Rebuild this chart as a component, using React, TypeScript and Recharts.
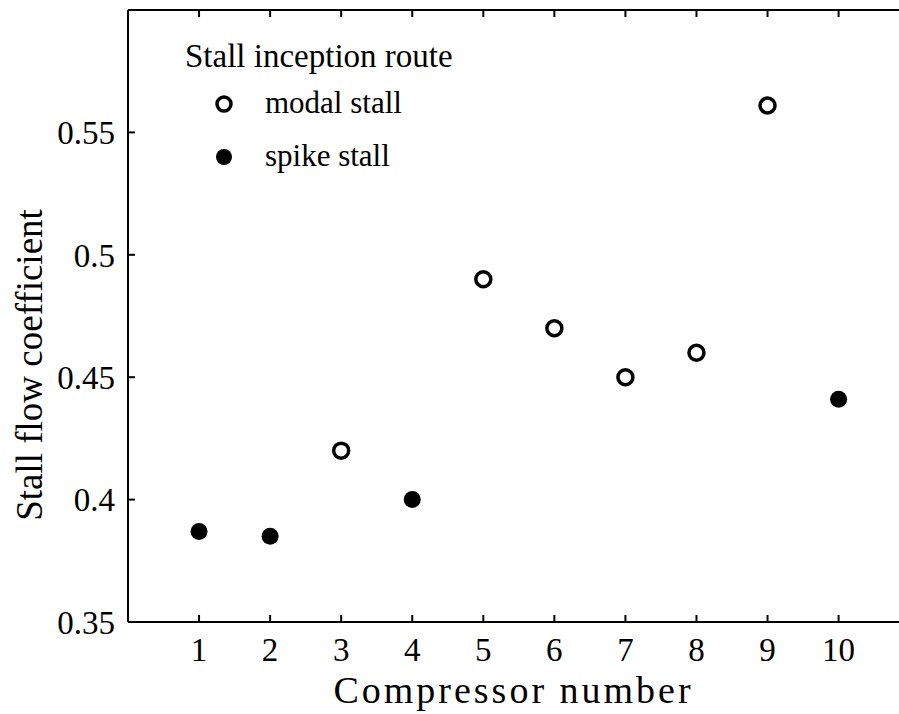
import { Label, Scatter, ScatterChart, XAxis, YAxis } from "recharts";

const FONT = '"Liberation Serif", "Times New Roman", serif';

const modalCompressors = [3, 5, 6, 7, 8, 9];
const modalFlow = [0.42, 0.49, 0.47, 0.45, 0.46, 0.561];
const spikeCompressors = [1, 2, 4, 10];
const spikeFlow = [0.387, 0.385, 0.4, 0.441];
const xTicks = [1, 2, 3, 4, 5, 6, 7, 8, 9, 10];
const yTicks = [0.35, 0.4, 0.45, 0.5, 0.55];

const modalData = modalCompressors.map((c, i) => ({ x: c, y: modalFlow[i] }));
const spikeData = spikeCompressors.map((c, i) => ({ x: c, y: spikeFlow[i] }));

const OpenDot = (props: any) => (
  <circle cx={props.cx} cy={props.cy} r={7.5} fill="#fff" stroke="#000" strokeWidth={3.5} />
);
const FilledDot = (props: any) => <circle cx={props.cx} cy={props.cy} r={8.5} fill="#000" />;

const tickStyle = { fontSize: 33, fontFamily: FONT, fill: "#000" };
const axisLine = { stroke: "#000", strokeWidth: 2 };

export default function App() {
  return (
    <div style={{ position: "absolute", left: 0, top: 0, width: 899, height: 714, background: "#fff" }}>
      <ScatterChart width={899} height={714} margin={{ top: 0, right: 0, bottom: 0, left: 0 }}>
        <XAxis
          xAxisId="top"
          orientation="top"
          type="number"
          dataKey="x"
          domain={[0, 10.85]}
          ticks={xTicks}
          height={10}
          tickSize={-7}
          tickFormatter={() => ""}
          axisLine={axisLine}
          tickLine={axisLine}
          allowDataOverflow
        />
        <XAxis
          type="number"
          dataKey="x"
          domain={[0, 10.85]}
          ticks={xTicks}
          height={92}
          tickSize={-7}
          tickMargin={23}
          tick={tickStyle}
          axisLine={axisLine}
          tickLine={axisLine}
          allowDataOverflow
        >
          <Label
            value="Compressor number"
            position="center"
            dy={22}
            style={{ fontSize: 38, letterSpacing: 3, fontFamily: FONT, fill: "#000" }}
          />
        </XAxis>
        <YAxis
          type="number"
          dataKey="y"
          domain={[0.35, 0.6]}
          ticks={yTicks}
          width={128}
          tickSize={-7}
          tickMargin={20}
          tick={tickStyle}
          axisLine={axisLine}
          tickLine={axisLine}
          allowDataOverflow
        >
          <Label
            value="Stall flow coefficient"
            position="center"
            angle={-90}
            dx={-35}
            dy={49}
            style={{ fontSize: 37, fontFamily: FONT, fill: "#000", textAnchor: "middle" }}
          />
        </YAxis>
        <Scatter name="modal stall" data={modalData} shape={OpenDot} isAnimationActive={false} />
        <Scatter name="spike stall" data={spikeData} shape={FilledDot} isAnimationActive={false} />
      </ScatterChart>
      <svg
        width={520}
        height={190}
        style={{ position: "absolute", left: 0, top: 0, pointerEvents: "none" }}
        fontFamily={FONT}
      >
        <text x={185} y={67} fill="#000" fontSize={33}>Stall inception route</text>
        <circle cx={224} cy={104} r={7} fill="#fff" stroke="#000" strokeWidth={3.5} />
        <text x={265} y={113} fill="#000" fontSize={31}>modal stall</text>
        <circle cx={224} cy={157} r={8} fill="#000" />
        <text x={265} y={166} fill="#000" fontSize={31}>spike stall</text>
      </svg>
    </div>
  );
}
